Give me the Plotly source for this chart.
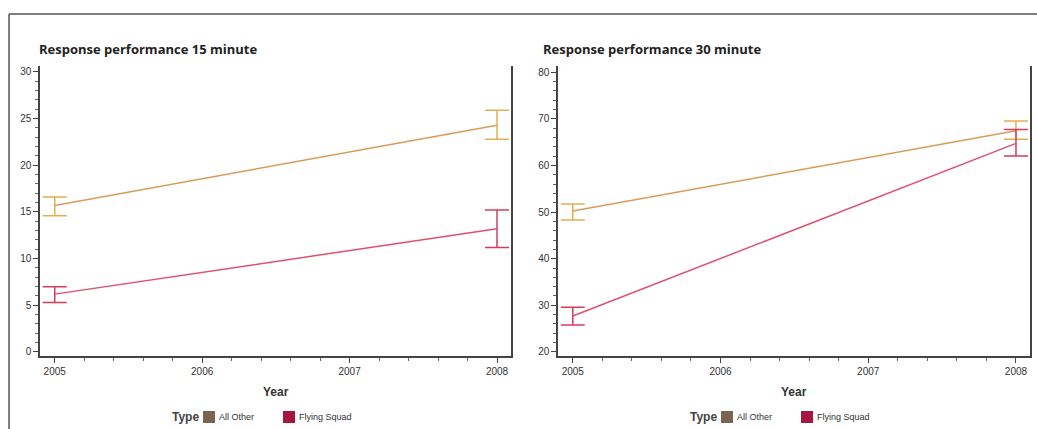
import plotly.graph_objects as go

# ---- data ----
years = [2005, 2008]
types = ["All Other", "Flying Squad"]

p15_all_other = [15.7, 24.3]
p15_all_other_hi = [16.6, 25.9]
p15_all_other_lo = [14.6, 22.8]
p15_flying = [6.2, 13.2]
p15_flying_hi = [7.0, 15.2]
p15_flying_lo = [5.3, 11.2]

p30_all_other = [50.2, 67.4]
p30_all_other_hi = [51.7, 69.5]
p30_all_other_lo = [48.3, 65.6]
p30_flying = [27.7, 64.7]
p30_flying_hi = [29.6, 67.7]
p30_flying_lo = [25.8, 62.0]

titles = ["Response performance 15 minute", "Response performance 30 minute"]
x_ticks = [2005, 2006, 2007, 2008]

line_colors = {"All Other": "#d99b5c", "Flying Squad": "#e0506f"}
err_colors = {"All Other": "#e2b04e", "Flying Squad": "#d83a5c"}
legend_colors = {"All Other": "#7a6450", "Flying Squad": "#a3173f"}

W, H = 1037, 429
def px(x):
    return x / W
def py(y):
    return 1 - y / H

fig = go.Figure()

panels = [
    ("x", "y", [(p15_all_other, p15_all_other_hi, p15_all_other_lo, "All Other"),
                (p15_flying, p15_flying_hi, p15_flying_lo, "Flying Squad")]),
    ("x2", "y2", [(p30_all_other, p30_all_other_hi, p30_all_other_lo, "All Other"),
                  (p30_flying, p30_flying_hi, p30_flying_lo, "Flying Squad")]),
]
for xa, ya, series in panels:
    for vals, hi, lo, name in series:
        fig.add_trace(go.Scatter(
            x=years, y=vals, mode="lines", name=name, showlegend=False,
            xaxis=xa, yaxis=ya,
            line=dict(color=line_colors[name], width=1.5),
            error_y=dict(type="data", symmetric=False,
                         array=[h - v for h, v in zip(hi, vals)],
                         arrayminus=[v - l for v, l in zip(vals, lo)],
                         color=err_colors[name], thickness=1.5, width=12),
        ))

axis_font = dict(family="Liberation Sans, Arial", size=10, color="#333")
common_x = dict(range=[2004.9, 2008.095], tickvals=x_ticks, ticks="outside", ticklen=5,
                tickcolor="#444", showline=True, linecolor="#444", linewidth=2,
                showgrid=False, zeroline=False, tickfont=axis_font,
                minor=dict(dtick=0.2, ticks="outside", ticklen=3, tickcolor="#666"))
common_y = dict(ticks="outside", ticklen=5, tickcolor="#444", showline=True,
                linecolor="#444", linewidth=1.5, mirror=True, showgrid=False,
                zeroline=False, tickfont=axis_font)

ydom = [py(356), py(66)]
fig.update_layout(
    width=W, height=H,
    margin=dict(l=0, r=0, t=0, b=0),
    paper_bgcolor="white", plot_bgcolor="white",
    showlegend=False,
    xaxis=dict(domain=[px(40), px(511)], anchor="y", **common_x),
    xaxis2=dict(domain=[px(558), px(1030)], anchor="y2", **common_x),
    yaxis=dict(domain=ydom, anchor="x", range=[-0.43, 30.64], dtick=5,
               minor=dict(dtick=1, ticks="outside", ticklen=3, tickcolor="#666"), **common_y),
    yaxis2=dict(domain=ydom, anchor="x2", range=[19.14, 81.29], dtick=10,
                minor=dict(dtick=2, ticks="outside", ticklen=3, tickcolor="#666"), **common_y),
)

annotations = []
shapes = []
# outer frame
shapes.append(dict(type="line", xref="paper", yref="paper", x0=px(9), x1=1.0,
                   y0=py(14), y1=py(14), line=dict(color="#555", width=1.5)))
shapes.append(dict(type="line", xref="paper", yref="paper", x0=px(9), x1=px(9),
                   y0=py(14), y1=0, line=dict(color="#555", width=1.5)))

title_x = [37, 541]
year_x = [275.5, 794]
legend_x0 = [170, 688]
for i in range(2):
    annotations.append(dict(text="<b>" + titles[i] + "</b>", x=px(title_x[i]), y=py(49),
                            xref="paper", yref="paper", xanchor="left", yanchor="middle",
                            showarrow=False,
                            font=dict(family="Open Sans", size=13, color="#222")))
    annotations.append(dict(text="<b>Year</b>", x=px(year_x[i]), y=py(392),
                            xref="paper", yref="paper", xanchor="center", yanchor="middle",
                            showarrow=False,
                            font=dict(family="Liberation Sans, Arial", size=12, color="#333")))
    # legend
    x0 = legend_x0[i]
    annotations.append(dict(text="<b>Type</b>", x=px(x0), y=py(417), xref="paper", yref="paper",
                            xanchor="left", yanchor="middle", showarrow=False,
                            font=dict(family="Liberation Sans, Arial", size=12, color="#444")))
    offs = [33, 113]
    for t, off in zip(types, offs):
        sx = x0 + off
        shapes.append(dict(type="rect", xref="paper", yref="paper",
                           x0=px(sx), x1=px(sx + 12), y0=py(423), y1=py(411),
                           fillcolor=legend_colors[t], line=dict(width=0)))
        annotations.append(dict(text=t, x=px(sx + 14), y=py(417), xref="paper", yref="paper",
                                xanchor="left", yanchor="middle", showarrow=False,
                                font=dict(family="Liberation Sans, Arial", size=9, color="#333")))

fig.update_layout(annotations=annotations, shapes=shapes)
fig.write_html("out.html", config={"displayModeBar": False},
               post_script="document.body.style.margin='0';document.body.style.overflow='hidden';")
